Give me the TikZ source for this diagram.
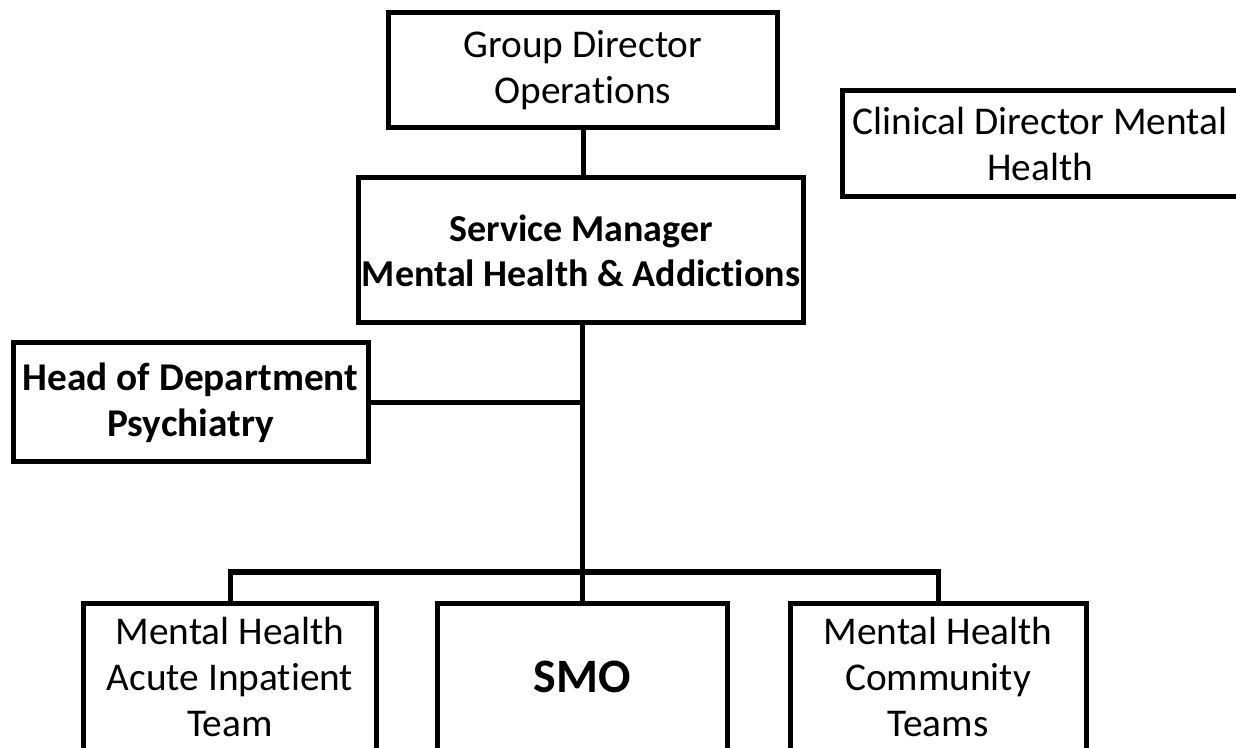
\documentclass[tikz,border=0pt]{standalone}
\usepackage{fontspec}
\setmainfont{Carlito}[Ligatures=NoCommon]
\tikzset{
  box/.style={draw, line width=3.75pt, fill=white, align=center, inner sep=0pt,
    font=\fontsize{29.5}{34.5}\selectfont},
  link/.style={line width=3.75pt},
}
\begin{document}
\begin{tikzpicture}[x=0.75pt,y=0.75pt,yscale=-1,xscale=1]
        \useasboundingbox (0,0) rectangle (1236,748);
        
        %Top boxes
        \node[box, minimum width=291.75pt, minimum height=86.25pt] (gdo) at (583,70.5) {Group Director\\Operations};
        \node[box, minimum width=297pt, minimum height=79.5pt] (cdm) at (1040,144) {Clinical Director Mental\\Health};
        %Service manager
        \node[box, minimum width=333.75pt, minimum height=108.75pt, font=\fontsize{28.5}{34}\selectfont\bfseries] (sm) at (581,250.5) {Service Manager\\Mental Health \& Addictions};
        \node[box, minimum width=266.25pt, minimum height=89.25pt, font=\fontsize{29.5}{34.5}\selectfont\bfseries] (hod) at (190.5,402.5) {Head of Department\\Psychiatry};
        
        %Bottom boxes
        \node[box, minimum width=219.75pt, minimum height=111pt] (aci) at (230,677) {Mental Health\\Acute Inpatient\\Team};
        \node[box, minimum width=217.5pt, minimum height=111pt, font=\fontsize{36}{43}\selectfont\bfseries] (smo) at (582,677) {SMO};
        \node[box, minimum width=222pt, minimum height=111pt] (cmt) at (938,677) {Mental Health\\Community\\Teams};
        
        %Straight Lines
        \coordinate (bus) at (582,572);
        \draw[link] (gdo.south) -- (gdo.south |- sm.north);
        \draw[link] (sm.south -| smo.north) -- (smo.north);
        \draw[link] (hod.east) -- (hod.east -| smo.north);
        \draw[link] (aci.north) |- (bus) -| (cmt.north);
        
\end{tikzpicture}
\end{document}
